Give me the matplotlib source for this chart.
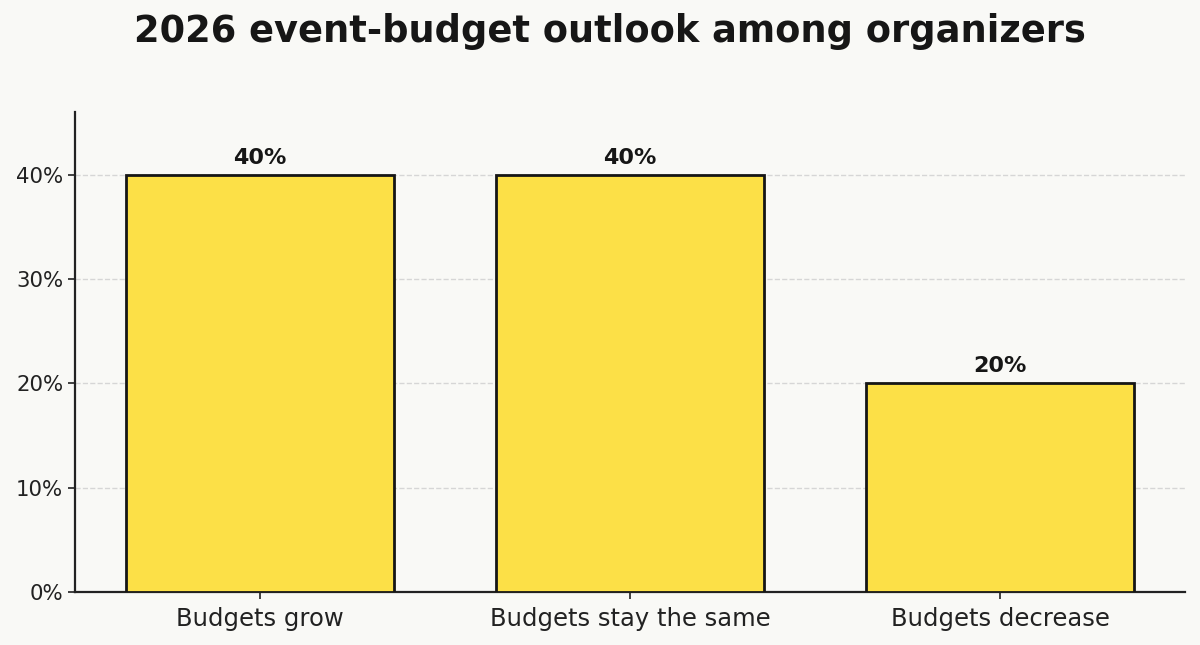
import matplotlib.pyplot as plt
from matplotlib.ticker import FuncFormatter

categories = ['Budgets grow', 'Budgets stay the same', 'Budgets decrease']
shares = [40, 40, 20]

bg = '#f9f9f6'
fig = plt.figure(figsize=(12, 6.45), dpi=100, facecolor=bg)
ax = fig.add_axes([0.0625, 0.0822, 0.925, 0.7442], facecolor=bg)

bars = ax.bar(range(len(categories)), shares, width=0.725, color='#fce047',
              edgecolor='#161616', linewidth=2, zorder=3)
for rect, v in zip(bars, shares):
    ax.annotate(f'{v}%', (rect.get_x() + rect.get_width() / 2, v),
                xytext=(0, 5), textcoords='offset points', ha='center', va='bottom',
                fontsize=16, fontweight='bold', color='#161616')

ax.set_xlim(-0.5, 2.5)
ax.set_ylim(0, 46)
ax.set_yticks([0, 10, 20, 30, 40])
ax.yaxis.set_major_formatter(FuncFormatter(lambda v, p: f'{v:.0f}%'))
ax.set_xticks(range(len(categories)))
ax.set_xticklabels(categories, fontsize=17.5, color='#222222')
ax.tick_params(axis='y', labelsize=15.3, colors='#222222', length=5, width=1.2)
ax.tick_params(axis='x', length=5, width=1.2, colors='#222222', pad=6)
ax.grid(axis='y', linestyle='--', color='#d6d6d6', linewidth=1, zorder=0)
for s in ['top', 'right']:
    ax.spines[s].set_visible(False)
for s in ['left', 'bottom']:
    ax.spines[s].set_color('#222222')
    ax.spines[s].set_linewidth(1.6)

fig.suptitle('2026 event-budget outlook among organizers', fontsize=26.5,
             fontweight='bold', color='#161616', x=0.508, y=0.98)

fig.savefig('out.png', dpi=100, facecolor=bg)
